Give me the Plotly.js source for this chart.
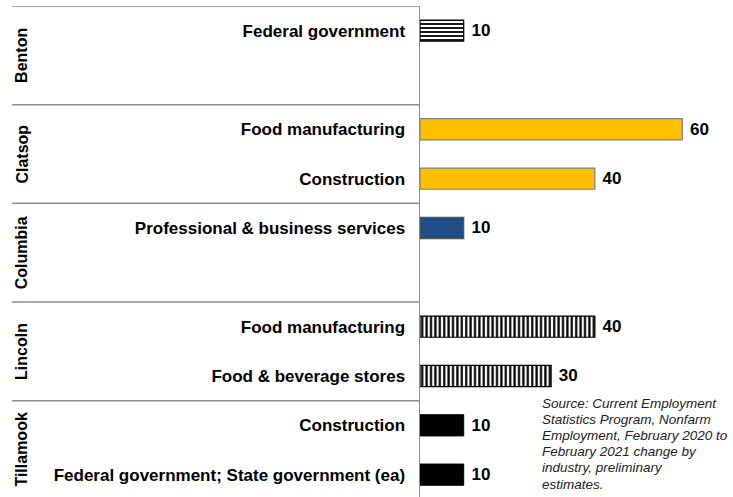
<!DOCTYPE html>
<html><head><meta charset="utf-8">
<script src="https://cdn.plot.ly/plotly-3.0.1.min.js"></script>
<style>html,body{margin:0;padding:0;background:#fff;}#chart{width:733px;height:497px;}</style>
</head><body><div id="chart"></div>
<script>
// Data
const counties = ["Benton", "Clatsop", "Columbia", "Lincoln", "Tillamook"];
const slotLabels = ["Federal government", "", "Food manufacturing", "Construction",
  "Professional & business services", "", "Food manufacturing", "Food & beverage stores",
  "Construction", "Federal government; State government (ea)"];
const bentonVals = [10];
const clatsopVals = [60, 40];
const columbiaVals = [10];
const lincolnVals = [40, 30];
const tillamookVals = [10, 10];
const sourceLines = ["Source: Current Employment", "Statistics Program, Nonfarm",
  "Employment, February 2020 to", "February 2021 change by", "industry, preliminary", "estimates."];

const font = "Liberation Sans, Arial, sans-serif";
const txtFont = {family: font, size: 17, color: "#000"};

function barTrace(vals, slots, marker) {
  return {
    type: "bar", orientation: "h", x: vals, y: slots, width: 0.43,
    marker: marker, text: vals.map(String), texttemplate: "\u00a0<b>%{text}</b>",
    textposition: "outside", textfont: txtFont, cliponaxis: false,
    hoverinfo: "skip", showlegend: false
  };
}

const traces = [
  barTrace(bentonVals, [0], {color: "#fff", line: {color: "#000", width: 1.2},
    pattern: {shape: "-", fgcolor: "#000", bgcolor: "#fff", size: 4, solidity: 0.45}}),
  barTrace(clatsopVals, [2, 3], {color: "#FFC000", line: {color: "#7f7f7f", width: 1.2}}),
  barTrace(columbiaVals, [4], {color: "#1F4E86", line: {color: "#555", width: 1.2}}),
  barTrace(lincolnVals, [6, 7], {color: "#fff", line: {color: "#000", width: 1.2},
    pattern: {shape: "|", fgcolor: "#000", bgcolor: "#fff", size: 4.4, solidity: 0.5}}),
  barTrace(tillamookVals, [8, 9], {color: "#000", line: {color: "#000", width: 1}})
];

const shapes = [];
[-0.5, 1.5, 3.5, 5.5, 7.5].forEach(yv => {
  shapes.push({type: "line", xref: "paper", yref: "y", x0: -1.333, x1: 0, y0: yv, y1: yv,
    line: {color: "#8c8c8c", width: 1.5}});
});

const annotations = counties.map((c, i) => ({
  text: "<b>" + c + "</b>", xref: "paper", yref: "y", x: -1.302, y: 2 * i + 0.5,
  textangle: -90, showarrow: false, xanchor: "center", yanchor: "middle",
  font: {family: font, size: 16, color: "#000"}
}));
sourceLines.forEach((ln, i) => {
  annotations.push({
    text: "<i>" + ln + "</i>", xref: "paper", yref: "paper", x: 0.392,
    y: 1 - (403 + 16.2 * i - 6) / 491,
    xanchor: "left", yanchor: "middle", align: "left", showarrow: false,
    font: {family: font, size: 13.5, color: "#222"}
  });
});

const layout = {
  width: 733, height: 497,
  margin: {l: 420, r: 7, t: 6, b: 0},
  paper_bgcolor: "#fff", plot_bgcolor: "#fff",
  bargap: 0.5,
  xaxis: {range: [0, 70], visible: false, fixedrange: true},
  yaxis: {range: [9.453, -0.5], tickvals: [0,1,2,3,4,5,6,7,8,9],
    ticktext: slotLabels.map(s => s ? "<b>" + s + "</b>" : ""),
    tickfont: {family: font, size: 17, color: "#000"},
    showline: true, linecolor: "#8c8c8c", linewidth: 1.5, showgrid: false,
    zeroline: false, ticks: "", ticklabelstandoff: 10, fixedrange: true},
  shapes: shapes, annotations: annotations, showlegend: false
};

Plotly.newPlot("chart", traces, layout, {displayModeBar: false, staticPlot: true});
</script></body></html>
